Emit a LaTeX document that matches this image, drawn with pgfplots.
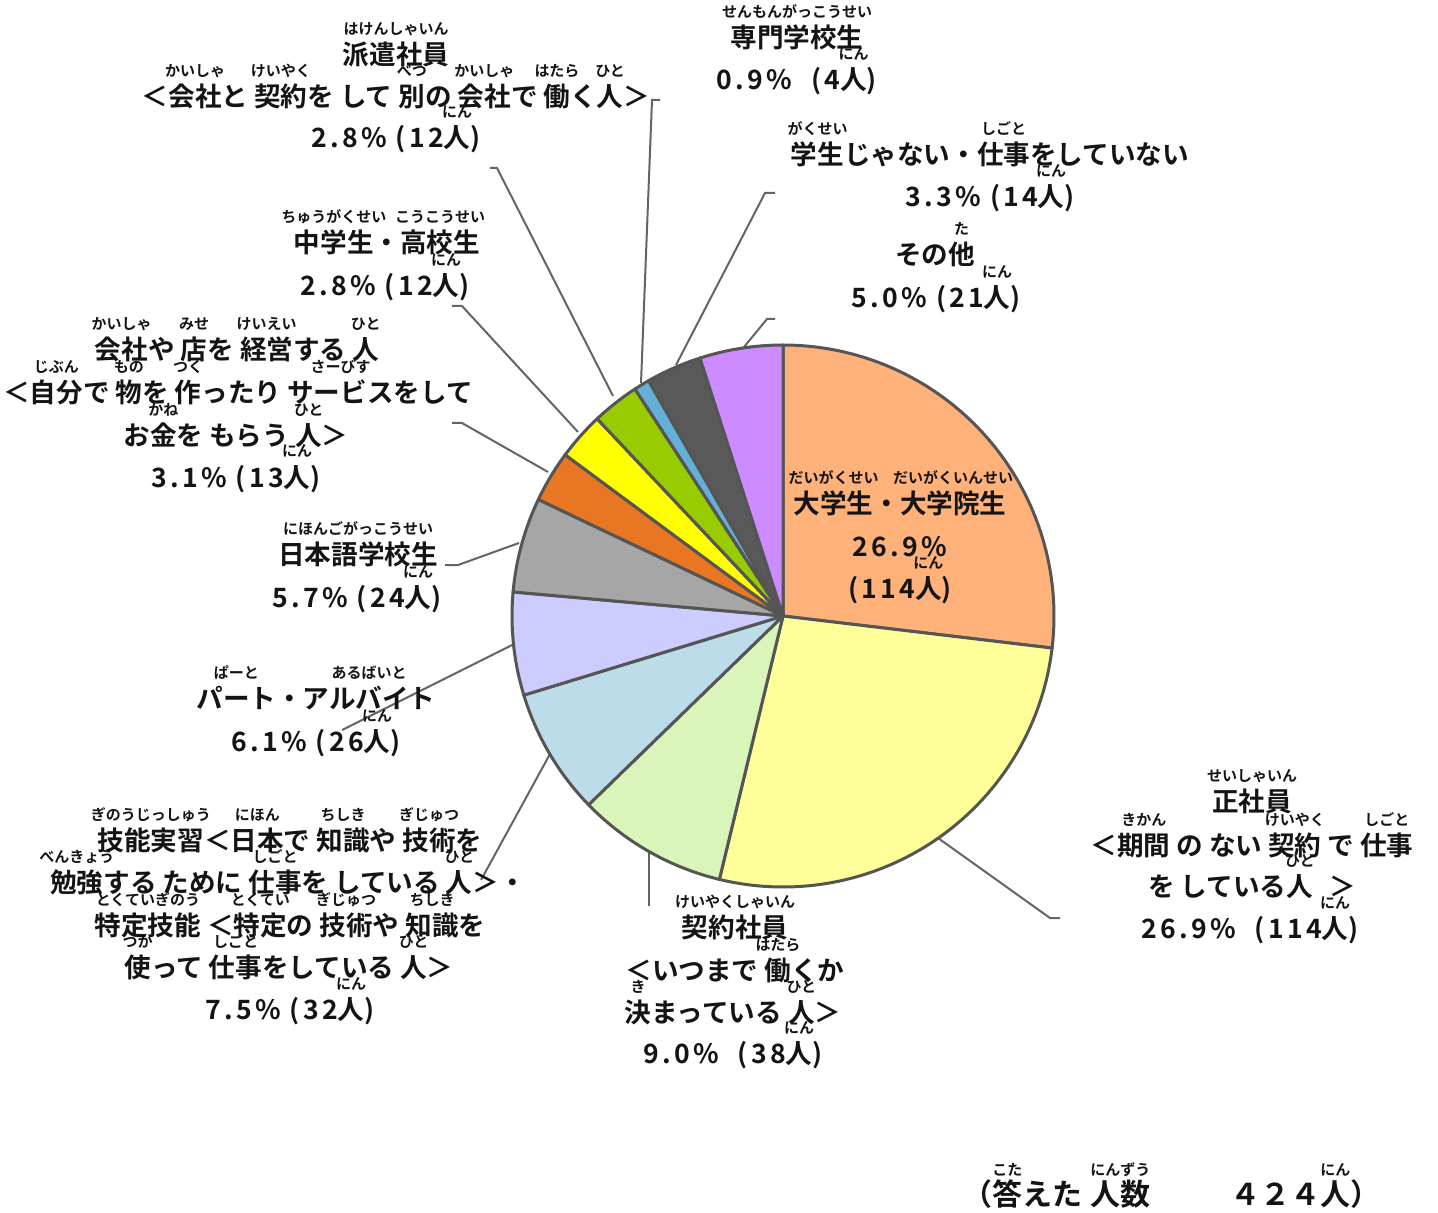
\documentclass[border=0pt]{standalone}
\usepackage{pgfplots}
\pgfplotsset{compat=1.18}
\usepackage{fontspec}
\setmainfont{Noto Sans CJK JP}[BoldFont={Noto Sans CJK JP Bold}]
\newfontfamily\numfont{Noto Sans CJK JP}[LetterSpace=12,BoldFont={Noto Sans CJK JP Bold}]
\definecolor{c1}{RGB}{254,178,122}
\definecolor{c2}{RGB}{255,255,153}
\definecolor{c3}{RGB}{218,245,186}
\definecolor{c4}{RGB}{188,220,234}
\definecolor{c5}{RGB}{204,204,255}
\definecolor{c6}{RGB}{166,166,166}
\definecolor{c7}{RGB}{232,118,34}
\definecolor{c8}{RGB}{255,255,0}
\definecolor{c9}{RGB}{153,204,0}
\definecolor{c10}{RGB}{102,175,214}
\definecolor{c11}{RGB}{89,89,89}
\definecolor{c12}{RGB}{204,140,255}
\definecolor{edgec}{RGB}{85,85,85}
\definecolor{linec}{RGB}{100,100,100}
\definecolor{txt}{RGB}{20,20,20}
\newsavebox\rbbase
\newcommand\rubyfont{\normalfont\fontsize{7.5pt}{8pt}\selectfont\bfseries}
\newcommand{\rb}[2]{\leavevmode\sbox\rbbase{#1}\makebox[\wd\rbbase][c]{\raisebox{15pt}[0pt][0pt]{\makebox[0pt][c]{\rubyfont #2}}}\kern-\wd\rbbase\usebox\rbbase}
\tikzset{L/.style={anchor=base,inner sep=0pt,text=txt,font=\fontsize{13.3pt}{16pt}\selectfont\bfseries}}
\newcommand\slice[3]{\addplot[draw=edgec,line width=1.5pt,line join=round,fill=#3,domain={#1*360/424}:{#2*360/424},samples=80,variable=\t] ({783+271*sin(\t)},{616-271*cos(\t)}) -- (axis cs:783,616) -- cycle;}
\begin{document}
\begin{tikzpicture}
\begin{axis}[width=719pt,height=606.5pt,scale only axis,xmin=0,xmax=1438,ymin=0,ymax=1213,y dir=reverse,hide axis,clip=false]
\coordinate (BL) at (axis cs:0,1213);
\coordinate (TR) at (axis cs:1438,0);
% leader lines
\draw[linec,line width=1pt] (axis cs:660,100) -- (axis cs:652,100) -- (axis cs:641,383);
\draw[linec,line width=1pt] (axis cs:490,168) -- (axis cs:497,168) -- (axis cs:613,396);
\draw[linec,line width=1pt] (axis cs:452,306) -- (axis cs:462,306) -- (axis cs:578,432);
\draw[linec,line width=1pt] (axis cs:452,423) -- (axis cs:462,423) -- (axis cs:548,472);
\draw[linec,line width=1pt] (axis cs:445,565) -- (axis cs:458,565) -- (axis cs:519,543);
\draw[linec,line width=1pt] (axis cs:342,730) -- (axis cs:512,645);
\draw[linec,line width=1pt] (axis cs:481,880) -- (axis cs:550,754);
\draw[linec,line width=1pt] (axis cs:649,851) -- (axis cs:649,906);
\draw[linec,line width=1pt] (axis cs:938,838) -- (axis cs:1050,918) -- (axis cs:1060,918);
\draw[linec,line width=1pt] (axis cs:775,193) -- (axis cs:765,193) -- (axis cs:676,365);
\draw[linec,line width=1pt] (axis cs:775,319) -- (axis cs:767,319) -- (axis cs:744,347);
% slices (cumulative counts of 424)
\slice{0}{114}{c1}
\slice{114}{228}{c2}
\slice{228}{266}{c3}
\slice{266}{298}{c4}
\slice{298}{324}{c5}
\slice{324}{348}{c6}
\slice{348}{361}{c7}
\slice{361}{373}{c8}
\slice{373}{385}{c9}
\slice{385}{389}{c10}
\slice{389}{403}{c11}
\slice{403}{424}{c12}
% labels
\node[L] at (axis cs:900,513) {\rb{大学生}{だいがくせい}・\rb{大学院生}{だいがくいんせい}};
\node[L] at (axis cs:900,556) {\numfont 26.9\%};
\node[L] at (axis cs:900,598) {\numfont (114\rb{人}{にん})};

\node[L] at (axis cs:396,65) {\rb{派遣社員}{はけんしゃいん}};
\node[L] at (axis cs:396,107) {＜\rb{会社}{かいしゃ}と \rb{契約}{けいやく}を して \rb{別}{べつ}の \rb{会社}{かいしゃ}で \rb{働}{はたら}く\rb{人}{ひと}＞};
\node[L] at (axis cs:396,148) {\numfont 2.8\% (12\rb{人}{にん})};

\node[L] at (axis cs:797,48) {\rb{専門学校生}{せんもんがっこうせい}};
\node[L] at (axis cs:797,90) {\numfont 0.9\%\hspace{5pt} (4\rb{人}{にん})};

\node[L] at (axis cs:990,165) {\rb{学生}{がくせい}じゃない・\rb{仕事}{しごと}をしていない};
\node[L] at (axis cs:990,207) {\numfont 3.3\% (14\rb{人}{にん})};

\node[L] at (axis cs:935,265) {その\rb{他}{た}};
\node[L] at (axis cs:936,308) {\numfont 5.0\% (21\rb{人}{にん})};

\node[L] at (axis cs:387,253) {\rb{中学生}{ちゅうがくせい}・\rb{高校生}{こうこうせい}};
\node[L] at (axis cs:385,296) {\numfont 2.8\% (12\rb{人}{にん})};

\node[L] at (axis cs:237,360) {\rb{会社}{かいしゃ}や \rb{店}{みせ}を \rb{経営}{けいえい}する \rb{人}{ひと}};
\node[L] at (axis cs:238,403) {＜\rb{自分}{じぶん}で \rb{物}{もの}を \rb{作}{つく}ったり \rb{サービス}{さーびす}をして};
\node[L] at (axis cs:236,445) {お\rb{金}{かね}を もらう \rb{人}{ひと}＞};
\node[L] at (axis cs:236,487) {\numfont 3.1\% (13\rb{人}{にん})};

\node[L] at (axis cs:358,564) {\rb{日本語学校生}{にほんごがっこうせい}};
\node[L] at (axis cs:357,607) {\numfont 5.7\% (24\rb{人}{にん})};

\node[L] at (axis cs:316,708) {\rb{パート}{ぱーと}・\rb{アルバイト}{あるばいと}};
\node[L] at (axis cs:316,751) {\numfont 6.1\% (26\rb{人}{にん})};

\node[L] at (axis cs:290,850) {\rb{技能実習}{ぎのうじっしゅう}＜\rb{日本}{にほん}で \rb{知識}{ちしき}や \rb{技術}{ぎじゅつ}を};
\node[L] at (axis cs:288,892) {\rb{勉強}{べんきょう}する ために \rb{仕事}{しごと}を している \rb{人}{ひと}＞・};
\node[L] at (axis cs:290,935) {\rb{特定技能}{とくていぎのう} ＜\rb{特定}{とくてい}の \rb{技術}{ぎじゅつ}や \rb{知識}{ちしき}を};
\node[L] at (axis cs:289,977) {\rb{使}{つか}って \rb{仕事}{しごと}をしている \rb{人}{ひと}＞};
\node[L] at (axis cs:290,1019) {\numfont 7.5\% (32\rb{人}{にん})};

\node[L] at (axis cs:735,937) {\rb{契約社員}{けいやくしゃいん}};
\node[L] at (axis cs:735,980) {＜いつまで \rb{働}{はたら}くか};
\node[L] at (axis cs:733,1022) {\rb{決}{き}まっている \rb{人}{ひと}＞};
\node[L] at (axis cs:733,1063) {\numfont 9.0\%\hspace{5pt} (38\rb{人}{にん})};

\node[L] at (axis cs:1252,811) {\rb{正社員}{せいしゃいん}};
\node[L] at (axis cs:1252,855) {＜\rb{期間}{きかん} の ない \rb{契約}{けいやく} で \rb{仕事}{しごと}};
\node[L] at (axis cs:1252,896) {を している\rb{人}{ひと}\hspace{8pt}＞};
\node[L] at (axis cs:1250,938) {\numfont 26.9\%\hspace{5pt} (114\rb{人}{にん})};

\node[L,anchor=base west,font=\fontsize{15pt}{16pt}\selectfont\bfseries] at (axis cs:962,1205) {（\rb{答}{こた}えた\hspace{4pt}\rb{人数}{にんずう}\hspace{40pt}４２４\rb{人}{にん}）};
\end{axis}
\pgfresetboundingbox
\path[use as bounding box] (BL) rectangle (TR);
\end{tikzpicture}
\end{document}
